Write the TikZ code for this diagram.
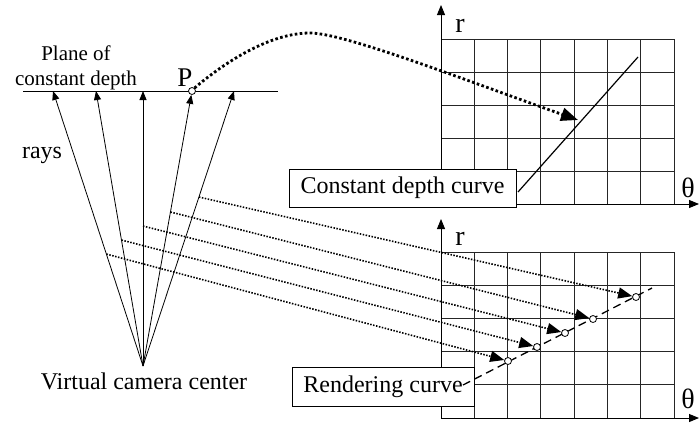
\documentclass[tikz,border=0pt]{standalone}
\usepackage{fontspec}
\setmainfont{Liberation Serif}
\usetikzlibrary{arrows.meta,calc}
\begin{document}
\begin{tikzpicture}[x=1pt,y=-1pt,
  gridline/.style={black!85, line width=0.9pt},
  axis/.style={line width=0.9pt, -{Triangle[length=10pt,width=8pt]}},
  ray/.style={line width=0.8pt, -{Triangle[length=9pt,width=7pt]}},
  proj/.style={line width=1.6pt, dash pattern=on 1.5pt off 1.5pt, -{Triangle[length=14pt,width=11pt]}},
  bigproj/.style={line width=2.8pt, dash pattern=on 2.6pt off 2.4pt, -{Triangle[length=17pt,width=13pt]}},
  labelbox/.style={draw, fill=white, line width=0.8pt, inner sep=0pt, font=\fontsize{24}{28}\selectfont},
  dot/.style={circle, draw, fill=white, line width=0.8pt, inner sep=0pt, minimum size=7pt},
  txt/.style={font=\fontsize{24}{28}\selectfont, inner sep=0pt},
  axlabel/.style={font=\fontsize{28}{30}\selectfont, inner sep=0pt},
]
\useasboundingbox (0,0) rectangle (700,426);

% ---- top grid ----
\foreach \i in {0,...,7} \draw[gridline] ({441+\i*33.29},39) -- ({441+\i*33.29},204);
\foreach \j in {0,...,5} \draw[gridline] (441,{39+\j*33}) -- (674,{39+\j*33});
\coordinate (O1) at (441,204);
\coordinate (O1y) at (441,5);
\coordinate (O1x) at (699,204);
\draw[axis] (O1) -- (O1y);
\draw[axis] (O1) -- (O1x);
\node[axlabel] (r1) at (460,26) {r};
\node[axlabel] (th1) at (688,188) {θ};

% ---- bottom grid ----
\foreach \i in {0,...,7} \draw[gridline] ({441+\i*33.29},252) -- ({441+\i*33.29},418);
\foreach \j in {0,...,5} \draw[gridline] (441,{252+\j*33.2}) -- (674,{252+\j*33.2});
\coordinate (O2) at (441,418);
\coordinate (O2y) at (441,219);
\coordinate (O2x) at (699,418);
\draw[axis] (O2) -- (O2y);
\draw[axis] (O2) -- (O2x);
\node[axlabel] (r2) at (460,239) {r};
\node[axlabel] (th2) at (688,399) {θ};

% ---- boxes ----
\node[labelbox, minimum width=227pt, minimum height=38pt] (cdbox) at (402.5,188) {Constant depth curve};
\node[labelbox, minimum width=182pt, minimum height=39pt] (rcbox) at (383,386.5) {Rendering curve};

% constant depth curve
\coordinate (cd1) at (518,192);
\coordinate (cd2) at (638,57);
\draw[line width=1.2pt] (cd1) -- (cd2);

% rendering curve
\coordinate (rc1) at (463,385);
\coordinate (rc2) at (652,288);
\draw[line width=1.3pt, dash pattern=on 8pt off 5pt] (rc1) -- (rc2);
\node[dot] (q1) at (636,297) {};
\node[dot] (q2) at (593,319) {};
\node[dot] (q3) at (565,333) {};
\node[dot] (q4) at (537,347) {};
\node[dot] (q5) at (508,361) {};

% ---- plane and rays ----
\coordinate (pl1) at (23,91);
\coordinate (pl2) at (278,91);
\draw[line width=0.9pt] (pl1) -- (pl2);
\node[dot] (P) at (192,91) {};
\coordinate (C) at (143,366);
\coordinate (t1) at (53,91);
\coordinate (t2) at (96,91);
\coordinate (t3) at (143,91);
\coordinate (t5) at (234,91);
\draw[ray] (C) -- (t1);
\draw[ray] (C) -- (t2);
\draw[ray] (C) -- (t3);
\draw[ray] (C) -- (P);
\draw[ray] (C) -- (t5);

% projection lines
\coordinate (s1) at ($(C)!0.6145!(t5)$);
\coordinate (s2) at ($(C)!0.56!(P)$);
\coordinate (s3) at ($(C)!0.509!(t3)$);
\coordinate (s4) at ($(C)!0.458!(t2)$);
\coordinate (s5) at ($(C)!0.407!(t1)$);
\draw[proj] (s1) -- (q1);
\draw[proj] (s2) -- (q2);
\draw[proj] (s3) -- (q3);
\draw[proj] (s4) -- (q4);
\draw[proj] (s5) -- (q5);

% big dotted arrow from P
\coordinate (bigend) at (578,120);
\draw[bigproj] (P.50) .. controls (225,62) and (270,33) .. (310,33) .. controls (345,33) and (470,82) .. (bigend);

% ---- texts ----
\node[font=\fontsize{21}{25}\selectfont, inner sep=0pt, align=center] (plane) at (76,68) {Plane of\\constant depth};
\node[font=\fontsize{27}{30}\selectfont, inner sep=0pt] (Plabel) at (185,78) {P};
\node[txt] (rays) at (42,155) {rays};
\node[txt] (vcc) at (144,381) {Virtual camera center};
\end{tikzpicture}
\end{document}
